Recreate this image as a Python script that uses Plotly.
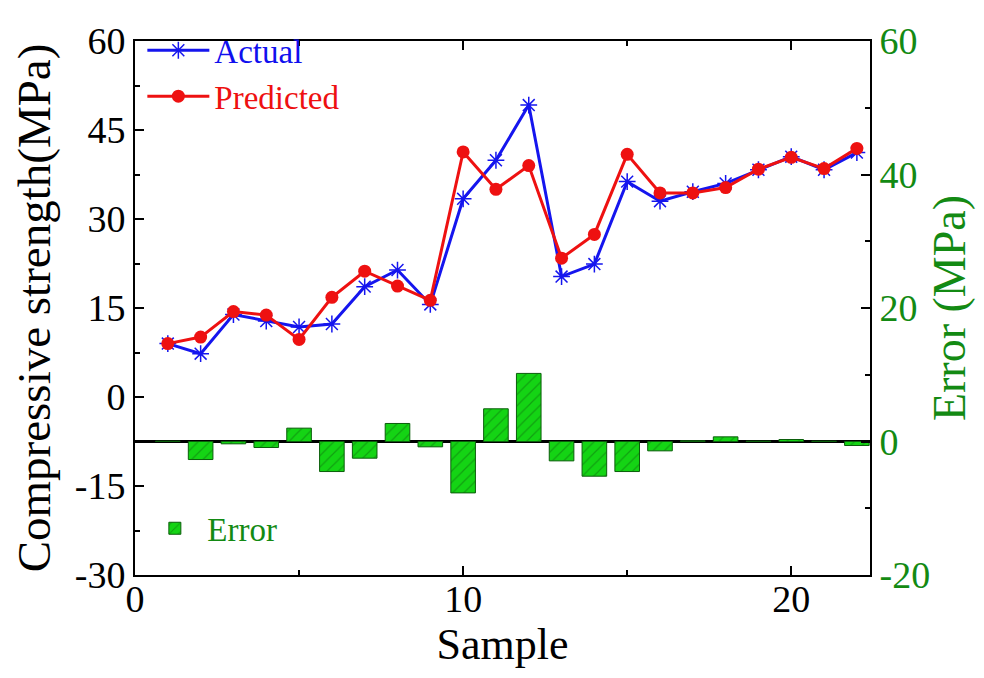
import plotly.graph_objects as go

samples = list(range(1, 23))
actual = [9.0, 7.3, 13.9, 12.8, 11.8, 12.3, 18.6, 21.4, 15.6, 33.4, 39.9, 49.2,
          20.3, 22.4, 36.3, 33.0, 34.6, 36.0, 38.3, 40.5, 38.3, 41.2]
predicted = [9.0, 10.1, 14.4, 13.8, 9.7, 16.8, 21.2, 18.7, 16.3, 41.3, 35.0, 39.0,
             23.4, 27.4, 40.9, 34.4, 34.4, 35.3, 38.4, 40.4, 38.5, 41.9]
error = [0.05, -2.7, -0.35, -0.9, 2.0, -4.5, -2.5, 2.7, -0.8, -7.7, 4.9, 10.2,
         -2.9, -5.2, -4.5, -1.4, 0.1, 0.7, 0.05, 0.3, 0.05, -0.6]

x_tickvals = [0, 10, 20]
x_ticktext = ["0", "10", "20"]
y_tickvals = [-30, -15, 0, 15, 30, 45, 60]
y_ticktext = ["-30", "-15", "0", "15", "30", "45", "60"]
y2_tickvals = [-20, 0, 20, 40, 60]
y2_ticktext = ["-20", "0", "20", "40", "60"]

FONT = "Liberation Serif"
GREEN = "#138a13"

fig = go.Figure()

fig.add_trace(go.Bar(
    x=samples, y=error, yaxis="y2", name="Error", width=0.75,
    marker=dict(color="#14d014", line=dict(color="#0b5e0b", width=1),
                pattern=dict(shape="/", fgcolor="#0d6e0d", bgcolor="#14d414",
                             size=8, solidity=0.15)),
    legend="legend2",
))

fig.add_trace(go.Scatter(
    x=samples, y=actual, mode="lines+markers",
    name="<span style='color:#1010ee'>Actual</span>",
    line=dict(color="#1515ee", width=3),
    marker=dict(symbol="asterisk-open", size=14, color="#1515ee",
                line=dict(color="#1515ee", width=1.5)),
    legend="legend",
))
fig.add_trace(go.Scatter(
    x=samples, y=predicted, mode="lines+markers",
    name="<span style='color:#ee1010'>Predicted</span>",
    line=dict(color="#ee1111", width=3),
    marker=dict(symbol="circle", size=13, color="#ee1111"),
    legend="legend",
))

fig.update_layout(
    width=984, height=678,
    margin=dict(l=127, r=122, t=24, b=111),
    paper_bgcolor="white", plot_bgcolor="white",
    font=dict(family=FONT, size=36, color="black"),
    barmode="overlay",
    xaxis=dict(
        range=[0, 22.4], tickmode="array", tickvals=x_tickvals, ticktext=x_ticktext,
        ticks="inside", ticklen=9, tickwidth=1.5, tickcolor="black",
        showline=True, linecolor="black", linewidth=2, mirror="ticks",
        showgrid=False, zeroline=False,
        minor=dict(ticks="inside", dtick=5, tick0=0, ticklen=5, tickcolor="black", tickwidth=1.5),
        tickfont=dict(family=FONT, size=38),
        ticklabelstandoff=-11,
        title=dict(text="Sample", font=dict(family=FONT, size=44), standoff=0),
    ),
    yaxis=dict(
        range=[-30, 60], tickmode="array", tickvals=y_tickvals, ticktext=y_ticktext,
        ticks="inside", ticklen=9, tickwidth=1.5, tickcolor="black",
        showline=True, linecolor="black", linewidth=2,
        showgrid=False, zeroline=False,
        minor=dict(ticks="inside", dtick=7.5, tick0=0, ticklen=5, tickcolor="black", tickwidth=1.5),
        tickfont=dict(family=FONT, size=38),
        title=dict(text="Compressive strength(MPa)", font=dict(family=FONT, size=47), standoff=22),
    ),
    yaxis2=dict(
        range=[-20, 60], tickmode="array", tickvals=y2_tickvals, ticktext=y2_ticktext,
        overlaying="y", side="right",
        ticks="inside", ticklen=9, tickwidth=1.5, tickcolor="black",
        showline=True, linecolor="black", linewidth=2,
        showgrid=False, zeroline=True, zerolinecolor="black", zerolinewidth=2.5,
        minor=dict(ticks="inside", dtick=10, tick0=0, ticklen=5, tickcolor="black", tickwidth=1.5),
        tickfont=dict(family=FONT, size=38, color=GREEN),
        title=dict(text="Error (MPa)", font=dict(family=FONT, size=46, color=GREEN), standoff=4),
    ),
    legend=dict(x=0.01, y=1.035, xanchor="left", yanchor="top",
                bgcolor="rgba(0,0,0,0)", font=dict(family=FONT, size=33), tracegroupgap=0,
                itemwidth=62),
    legend2=dict(x=0.01, y=0.035, xanchor="left", yanchor="bottom",
                 bgcolor="rgba(0,0,0,0)", font=dict(family=FONT, size=33, color=GREEN),
                 itemwidth=55),
    showlegend=True,
)

fig.write_html("out.html")
